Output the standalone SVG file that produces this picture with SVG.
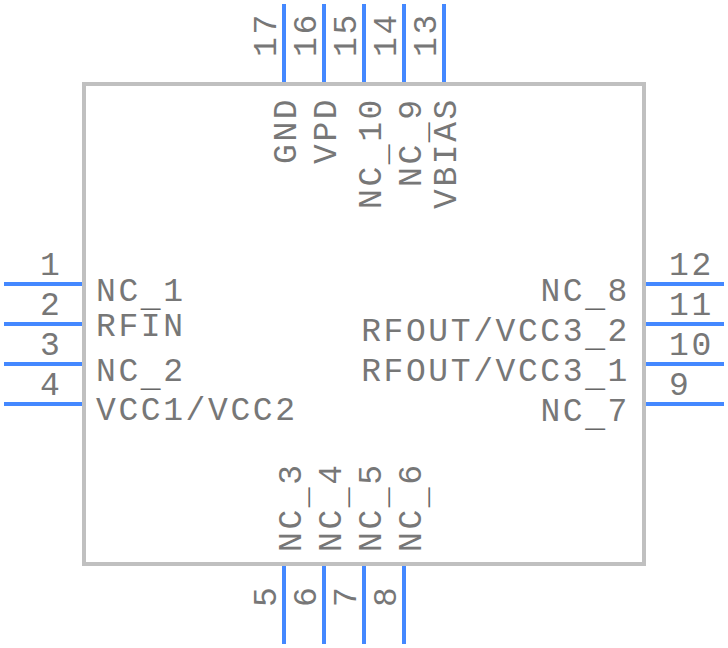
<svg xmlns="http://www.w3.org/2000/svg" width="728" height="648" viewBox="0 0 728 648">
<style>
text{font-family:"Liberation Mono","Courier New",monospace;font-size:33px;letter-spacing:2.6px;fill:#777}
.e{text-anchor:end}
.p{stroke:#4488ff;stroke-width:4;fill:none}
tspan.u{fill:#666}
</style>
<rect width="728" height="648" fill="#fff"/>
<g id="body"><rect x="84" y="84" width="560" height="480" fill="none" stroke="#c0c0c0" stroke-width="4"/></g>
<g id="connectors">
<path class="p" d="M4 284H82M4 324H82M4 364H82M4 404H82M646 284H724M646 324H724M646 364H724M646 404H724M284 4V82M324 4V82M364 4V82M404 4V82M444 4V82M284 566V644M324 566V644M364 566V644M404 566V644"/>
</g>
<g id="pin-numbers-left">
<text x="40" y="275">1</text><text x="40" y="315">2</text><text x="40" y="355">3</text><text x="40" y="395">4</text>
</g>
<g id="pin-numbers-right">
<text x="669" y="275">12</text><text x="669" y="315">11</text><text x="669" y="355">10</text><text x="669" y="395">9</text>
</g>
<g id="pin-numbers-top">
<text transform="translate(276,57) rotate(-90)">17</text><text transform="translate(316,57) rotate(-90)">16</text><text transform="translate(356,57) rotate(-90)">15</text><text transform="translate(396,57) rotate(-90)">14</text><text transform="translate(436,57) rotate(-90)">13</text>
</g>
<g id="pin-numbers-bottom">
<text transform="translate(276,607) rotate(-90)">5</text><text transform="translate(316,607) rotate(-90)">6</text><text transform="translate(356,607) rotate(-90)">7</text><text transform="translate(396,607) rotate(-90)">8</text>
</g>
<g id="labels-left">
<text x="96" y="301">NC<tspan class="u" dy="5">_</tspan><tspan dy="-5">1</tspan></text><text x="96" y="336">RFIN</text><text x="96" y="381">NC<tspan class="u" dy="5">_</tspan><tspan dy="-5">2</tspan></text><text x="96" y="420">VCC1/VCC2</text>
</g>
<g id="labels-right">
<text x="630" y="301" class="e">NC<tspan class="u" dy="5">_</tspan><tspan dy="-5">8</tspan></text><text x="630" y="341" class="e">RFOUT/VCC3<tspan class="u" dy="5">_</tspan><tspan dy="-5">2</tspan></text><text x="630" y="381" class="e">RFOUT/VCC3<tspan class="u" dy="5">_</tspan><tspan dy="-5">1</tspan></text><text x="630" y="421" class="e">NC<tspan class="u" dy="5">_</tspan><tspan dy="-5">7</tspan></text>
</g>
<g id="labels-top">
<text transform="translate(296,164) rotate(-90)">GND</text><text transform="translate(336,164) rotate(-90)">VPD</text><text transform="translate(381,209) rotate(-90)">NC<tspan class="u" dy="5">_</tspan><tspan dy="-5">10</tspan></text><text transform="translate(421,187) rotate(-90)">NC<tspan class="u" dy="5">_</tspan><tspan dy="-5">9</tspan></text><text transform="translate(456,209) rotate(-90)">VBIAS</text>
</g>
<g id="labels-bottom">
<text transform="translate(301,552) rotate(-90)">NC<tspan class="u" dy="5">_</tspan><tspan dy="-5">3</tspan></text><text transform="translate(341,552) rotate(-90)">NC<tspan class="u" dy="5">_</tspan><tspan dy="-5">4</tspan></text><text transform="translate(381,552) rotate(-90)">NC<tspan class="u" dy="5">_</tspan><tspan dy="-5">5</tspan></text><text transform="translate(421,552) rotate(-90)">NC<tspan class="u" dy="5">_</tspan><tspan dy="-5">6</tspan></text>
</g>
</svg>
